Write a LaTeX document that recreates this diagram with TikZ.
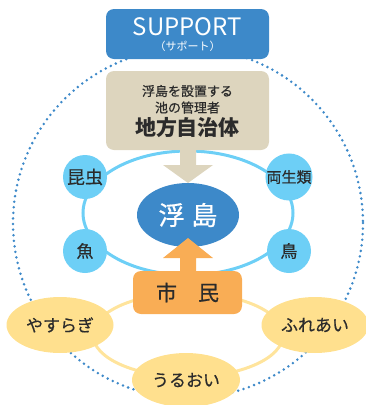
\documentclass[tikz,border=0pt]{standalone}
\usepackage{fontspec}
\setmainfont{Noto Sans CJK JP}
\newfontfamily\jpmed{Noto Sans CJK JP}[FakeBold=0.5]
\usetikzlibrary{shapes.geometric}
\definecolor{blueD}{HTML}{3D89C9}
\definecolor{beige}{HTML}{DDD5BE}
\definecolor{lblue}{HTML}{6DCFF6}
\definecolor{orangeC}{HTML}{F9AD55}
\definecolor{yellowC}{HTML}{FFE08E}
\definecolor{yring}{HTML}{FFE49C}
\definecolor{txt}{HTML}{2B2B2B}
\newcommand{\fs}[1]{\fontsize{#1}{#1}\selectfont}
\tikzset{
  dotring/.style={draw=blueD, line width=2.8pt, dash pattern=on 0pt off 5.6pt, line cap=round},
  bluering/.style={draw=lblue, line width=3pt},
  yellowring/.style={draw=yring, line width=3pt},
  creature/.style={circle, fill=lblue, minimum size=44pt, inner sep=0pt, text=txt},
  feel/.style={ellipse, fill=yellowC, minimum width=107pt, minimum height=56pt, inner sep=0pt, text=txt, font=\jpmed\fs{17}},
  boxbase/.style={rounded corners=8pt, inner sep=0pt},
}
\begin{document}
\begin{tikzpicture}[x=1pt,y=-1pt]
\useasboundingbox (0,0) rectangle (366,405);
% outer dotted circle
\path[dotring] (188,223) circle (175);
% rings
\draw[bluering] (188,213) ellipse [x radius=105, y radius=62];
\draw[yellowring] (188,335) ellipse [x radius=95, y radius=42];
% SUPPORT box
\node[boxbase, fill=blueD, minimum width=163pt, minimum height=50pt] (support) at (187.5,34) {};
\node[text=white, font=\fs{24}] (supporttxt) at (187.5,27) {SUPPORT};
\node[text=white, font=\fs{11}] (supportsub) at (187.5,46) {（サポート）};
% government box
\node[boxbase, fill=beige, minimum width=163pt, minimum height=79pt] (gov) at (187.5,110.5) {};
\node[text=txt, font=\jpmed\fs{13}] (gov1) at (187.5,91) {浮島を設置する};
\node[text=txt, font=\jpmed\fs{13}] (gov2) at (187.5,107.5) {池の管理者};
\node[text=txt, font=\bfseries\fs{21}] (gov3) at (187.5,128) {地方自治体};
% beige arrow
\fill[beige] (180,149) -- (180,165) -- (163,165) -- (188,183) -- (213,165) -- (196,165) -- (196,149) -- cycle;
% creatures
\node[creature, font=\jpmed\fs{18}] (insect) at (85,177) {昆虫};
\node[creature, font=\jpmed\fs{15}] (amph) at (289,177) {両生類};
\node[creature, font=\jpmed\fs{17}] (fish) at (85,251) {魚};
\node[creature, font=\jpmed\fs{17}] (bird) at (289,251) {鳥};
% floating island
\node[ellipse, fill=blueD, minimum width=102pt, minimum height=64pt, inner sep=0pt, text=white, font=\jpmed\fs{26}] (island) at (188,215) {浮\hspace{7pt}島};
% orange arrow
\fill[orangeC] (180,274) -- (180,258) -- (163,258) -- (188,238) -- (213,258) -- (196,258) -- (196,274) -- cycle;
% citizens
\node[boxbase, fill=orangeC, minimum width=109pt, minimum height=43pt, text=txt, font=\jpmed\fs{21}] (citizen) at (187.5,292.5) {市　民};
% feelings
\node[feel] (yasuragi) at (60,325) {やすらぎ};
\node[feel] (fureai) at (315,325) {ふれあい};
\node[feel, minimum width=108pt, minimum height=54pt] (uruoi) at (186,380) {うるおい};
\end{tikzpicture}
\end{document}
